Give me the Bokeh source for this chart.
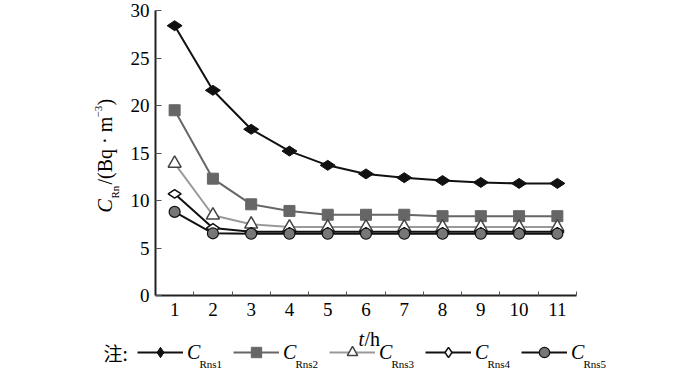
import math
from bokeh.plotting import figure
from bokeh.models import Range1d, FixedTicker, Label, Legend, LegendItem
from bokeh.embed import file_html
from bokeh.resources import INLINE

# ---------------- data ----------------
hours = [1, 2, 3, 4, 5, 6, 7, 8, 9, 10, 11]
c_rns1 = [28.4, 21.6, 17.5, 15.2, 13.7, 12.8, 12.4, 12.1, 11.9, 11.8, 11.8]
c_rns2 = [19.5, 12.3, 9.6, 8.9, 8.5, 8.5, 8.5, 8.35, 8.35, 8.35, 8.35]
c_rns3 = [13.9, 8.45, 7.5, 7.2, 7.2, 7.2, 7.2, 7.2, 7.2, 7.2, 7.2]
c_rns4 = [10.7, 7.1, 6.7, 6.7, 6.7, 6.7, 6.7, 6.7, 6.7, 6.7, 6.7]
c_rns5 = [8.8, 6.55, 6.5, 6.5, 6.5, 6.5, 6.5, 6.5, 6.5, 6.5, 6.5]
y_ticks = [0, 5, 10, 15, 20, 25, 30]
sub_labels = ["Rns1", "Rns2", "Rns3", "Rns4", "Rns5"]

SERIF = "Liberation Serif"

# geometry: the frame covers the whole canvas; axes are pinned with fixed_location
W, H = 700, 370
AX_LEFT, AX_RIGHT, AX_TOP, AX_BOTTOM = 155, 576, 10, 295   # canvas px of the plotting box
X0, X1 = 0.5, 11.5
Y0, Y1 = 0, 30
sx = (X1 - X0) / (AX_RIGHT - AX_LEFT)
sy = (Y1 - Y0) / (AX_BOTTOM - AX_TOP)

def px2x(px):
    return X0 + (px - AX_LEFT) * sx

def py2y(py):
    return Y0 + (AX_BOTTOM - py) * sy

p = figure(width=W, height=H, output_backend="svg", toolbar_location=None,
           x_range=Range1d(px2x(0), px2x(W)), y_range=Range1d(py2y(H), py2y(0)),
           min_border=0, min_border_left=0, min_border_right=0,
           min_border_top=0, min_border_bottom=0)
p.outline_line_color = None
p.grid.visible = False

# axes
xa = p.xaxis[0]
xa.fixed_location = Y0
xa.bounds = (X0, X1)
xa.ticker = FixedTicker(ticks=hours, minor_ticks=[h + 0.5 for h in hours])
xa.major_tick_in = 0
xa.major_tick_out = 0
xa.minor_tick_in = 4
xa.minor_tick_out = 0
xa.minor_tick_line_color = "#555555"
xa.major_label_standoff = 7
xa.axis_line_color = "#222222"
xa.axis_line_width = 2

ya = p.yaxis[0]
ya.fixed_location = X0
ya.bounds = (Y0, Y1)
ya.ticker = FixedTicker(ticks=y_ticks)
ya.major_tick_in = 6
ya.major_tick_out = 0
ya.minor_tick_in = 0
ya.minor_tick_out = 0
ya.major_tick_line_color = "#555555"
ya.major_label_standoff = 6
ya.axis_line_color = "#222222"
ya.axis_line_width = 2

for ax in (xa, ya):
    ax.major_label_text_font = SERIF
    ax.major_label_text_font_size = "19px"
    ax.major_label_text_color = "black"

# series (diamonds turned on their side so that they are wider than tall)
side = math.pi / 2
r1l = p.line(hours, c_rns1, line_color="#111111", line_width=2)
r1m = p.scatter(hours, c_rns1, marker="diamond", angle=side, size=15,
                fill_color="#111111", line_color="#111111")
r2l = p.line(hours, c_rns2, line_color="#666666", line_width=2)
r2m = p.scatter(hours, c_rns2, marker="square", size=11, fill_color="#666666", line_color="#666666")
r3l = p.line(hours, c_rns3, line_color="#9a9a9a", line_width=2)
r3m = p.scatter(hours, c_rns3, marker="triangle", size=13, fill_color="white",
                line_color="#444444", line_width=1.5)
r4l = p.line(hours, c_rns4, line_color="#111111", line_width=2)
r4m = p.scatter(hours, c_rns4, marker="diamond", angle=side, size=13,
                fill_color="white", line_color="#111111", line_width=1.5)
r5l = p.line(hours, c_rns5, line_color="#111111", line_width=2)
r5m = p.scatter(hours, c_rns5, marker="circle", size=11, fill_color="#777777",
                line_color="#111111", line_width=1.2)

# legend
items = [LegendItem(label="C", renderers=[l, m]) for l, m in
         [(r1l, r1m), (r2l, r2m), (r3l, r3m), (r4l, r4m), (r5l, r5m)]]
legend = Legend(items=items, orientation="horizontal",
                location=(137, H - 365),
                padding=0, margin=0, spacing=14,
                glyph_width=46, glyph_height=26, label_standoff=4,
                label_width=32, label_height=26,
                label_text_font=SERIF, label_text_font_style="italic",
                label_text_font_size="20px", label_text_color="black",
                border_line_alpha=0, background_fill_alpha=0)
p.add_layout(legend, "center")

# legend subscripts
for i, s in enumerate(sub_labels):
    p.add_layout(Label(x=px2x(199 + 96 * i), y=py2y(363), text=s,
                       text_font=SERIF, text_font_size="11px", text_color="black",
                       text_align="left", text_baseline="alphabetic"))

# note prefix
p.add_layout(Label(x=px2x(103), y=py2y(352), text="注:",
                   text_font="Noto Sans CJK SC", text_font_size="19px", text_color="black",
                   text_align="left", text_baseline="middle"))

# x axis title: t/h
p.add_layout(Label(x=px2x(358), y=py2y(338), text="t",
                   text_font=SERIF, text_font_style="italic", text_font_size="20px",
                   text_color="black", text_align="left", text_baseline="alphabetic"))
p.add_layout(Label(x=px2x(364), y=py2y(338), text="/h",
                   text_font=SERIF, text_font_size="20px",
                   text_color="black", text_align="left", text_baseline="alphabetic"))

# y axis title: C_Rn/(Bq · m^-3), rotated; parts centred on their own line
rot = math.pi / 2
y_parts = [
    ("C", 104, 212, "20px", "italic"),
    ("Rn", 114, 198, "11px", "normal"),
    ("/(Bq · m", 104, 184, "20px", "normal"),
    ("−3", 98, 117, "11px", "normal"),
    (")", 104, 105, "20px", "normal"),
]
for txt, cx, by, fs, st in y_parts:
    p.add_layout(Label(x=px2x(cx), y=py2y(by), text=txt, angle=rot,
                       text_font=SERIF, text_font_style=st, text_font_size=fs,
                       text_color="black", text_align="left", text_baseline="middle"))

open("out.html", "w").write(file_html(p, INLINE))
